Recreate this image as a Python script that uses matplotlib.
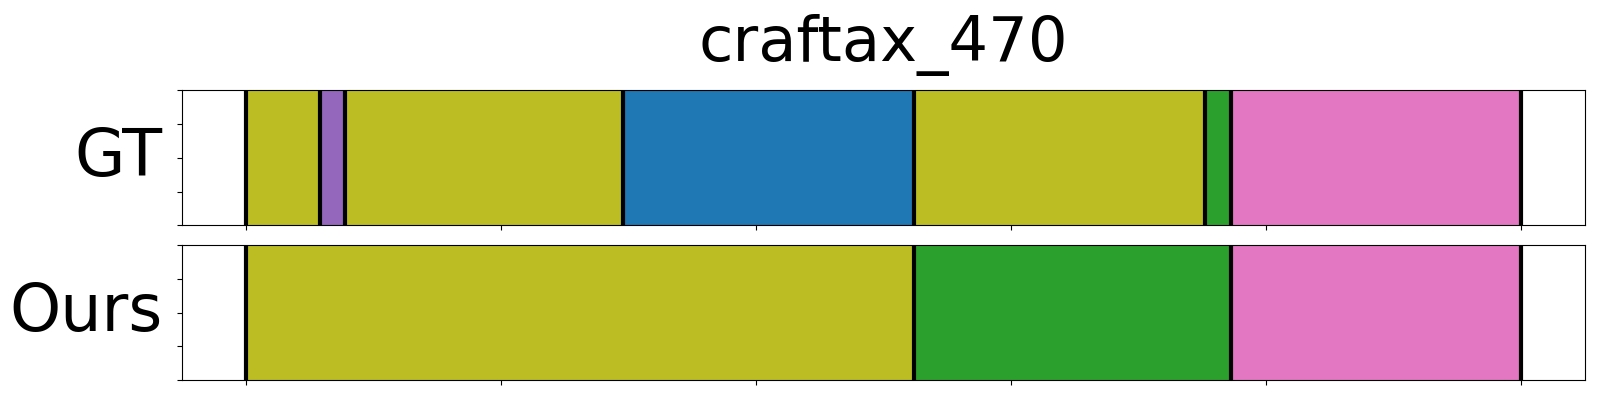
import numpy as np
import matplotlib
matplotlib.use("Agg")
import matplotlib.pyplot as plt

title = "craftax_470"
row_names = ["GT", "Ours"]

# segment boundaries (frame index) and the action class of each segment
gt_bounds = [0, 29, 39, 148, 262, 376, 386, 500]
gt_classes = [8, 4, 8, 0, 8, 2, 6]

ours_bounds = [0, 262, 386, 500]
ours_classes = [8, 2, 6]

x_ticks = [0, 100, 200, 300, 400, 500]

cmap = plt.get_cmap("tab10")


def draw_segments(ax, bounds, classes):
    starts = np.array(bounds[:-1])
    widths = np.diff(bounds)
    ax.barh(0.5, widths, left=starts, height=1.0,
            color=[cmap(c) for c in classes], linewidth=0)
    for b in bounds:
        ax.axvline(b, color="black", linewidth=3)
    ax.use_sticky_edges = False
    ax.margins(x=0.05)
    ax.set_ylim(0, 1)
    ax.set_yticks(np.linspace(0, 1, 5))
    ax.set_yticklabels([])
    ax.set_xticks(x_ticks)
    ax.tick_params(labelbottom=False)


fig, axes = plt.subplots(2, 1, figsize=(16, 4), dpi=100, sharex=True)
plt.subplots_adjust(left=0.1136, right=0.9908, top=0.774, bottom=0.05, hspace=0.148)

draw_segments(axes[0], gt_bounds, gt_classes)
draw_segments(axes[1], ours_bounds, ours_classes)

axes[0].set_title(title, fontsize=45, pad=21)
for ax, name in zip(axes, row_names):
    ax.set_ylabel(name, fontsize=47, rotation=0, ha="right", va="center", labelpad=7)

fig.savefig("out.png")
